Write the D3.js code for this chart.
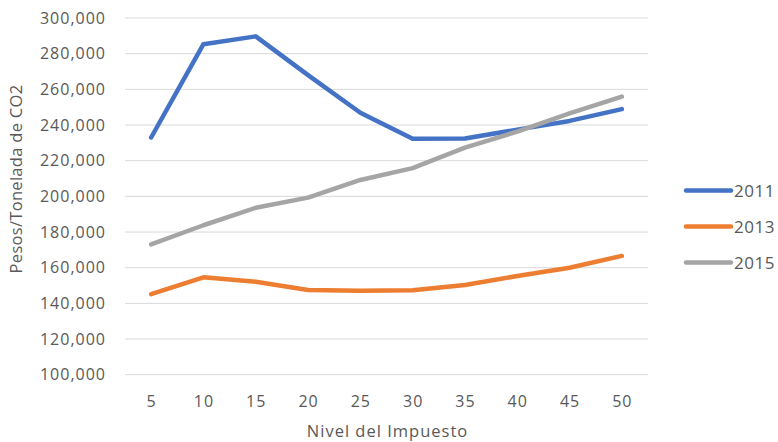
<!DOCTYPE html>
<html>
<head>
<meta charset="utf-8">
<script src="https://cdn.jsdelivr.net/npm/d3@7/dist/d3.min.js"></script>
<style>
  html, body { margin: 0; padding: 0; background: #fff; }
  svg { display: block; font-family: "Open Sans", sans-serif; }
</style>
</head>
<body>
<svg id="chart" width="778" height="442"></svg>
<script>
// Tax level categories on the x axis
const niveles = [5, 10, 15, 20, 25, 30, 35, 40, 45, 50];

// Cost per tonne of CO2 for each year
const serie2011 = [233000, 285300, 289700, 268000, 246900, 232300, 232400, 237400, 242300, 248900];
const serie2013 = [145200, 154600, 152100, 147500, 147100, 147400, 150300, 155300, 160000, 166600];
const serie2015 = [173100, 183800, 193600, 199300, 209200, 215800, 227300, 236300, 246500, 255900];

const seriesNames = ["2011", "2013", "2015"];
const seriesColors = ["#4472C4", "#ED7D31", "#A5A5A5"];
const yTicks = [100000, 120000, 140000, 160000, 180000, 200000, 220000, 240000, 260000, 280000, 300000];

const series = [serie2011, serie2013, serie2015];

const svg = d3.select("#chart");
const plotLeft = 125, plotRight = 648, plotTop = 18, plotBottom = 374.7;

const x = d3.scalePoint().domain(niveles).range([plotLeft, plotRight]).padding(0.5);
const y = d3.scaleLinear().domain([100000, 300000]).range([plotBottom, plotTop]);

const fmt = d3.format(",");
const textColor = "#595959";

// Horizontal gridlines
svg.append("g")
  .selectAll("line")
  .data(yTicks)
  .join("line")
  .attr("x1", plotLeft).attr("x2", plotRight)
  .attr("y1", d => y(d)).attr("y2", d => y(d))
  .attr("stroke", "#D9D9D9").attr("stroke-width", 1);

// Y axis labels
const yAxis = d3.axisLeft(y).tickValues(yTicks).tickFormat(fmt).tickSize(0).tickPadding(0);
const yg = svg.append("g").attr("transform", `translate(${plotLeft - 19},0)`).call(yAxis);
yg.select(".domain").remove();
yg.selectAll("text")
  .attr("fill", textColor)
  .attr("font-size", 16)
  .attr("letter-spacing", 1)
  .attr("font-family", "'Open Sans', sans-serif");

// X axis labels
const xAxis = d3.axisBottom(x).tickSize(0).tickPadding(0);
const xg = svg.append("g").attr("transform", `translate(0,${plotBottom + 21})`).call(xAxis);
xg.select(".domain").remove();
xg.selectAll("text")
  .attr("fill", textColor)
  .attr("font-size", 16)
  .attr("letter-spacing", 1)
  .attr("font-family", "'Open Sans', sans-serif");

// Axis titles
svg.append("text")
  .attr("x", (plotLeft + plotRight) / 2 + 1)
  .attr("y", 437)
  .attr("text-anchor", "middle")
  .attr("fill", textColor)
  .attr("font-size", 16.5)
  .attr("letter-spacing", 1)
  .text("Nivel del Impuesto");

svg.append("text")
  .attr("transform", "translate(22,179) rotate(-90)")
  .attr("text-anchor", "middle")
  .attr("fill", textColor)
  .attr("font-size", 16.5)
  .attr("letter-spacing", 0.3)
  .text("Pesos/Tonelada de CO2");

// Series lines
const line = d3.line().x((d, i) => x(niveles[i])).y(d => y(d));
svg.append("g")
  .selectAll("path")
  .data(series)
  .join("path")
  .attr("d", d => line(d))
  .attr("fill", "none")
  .attr("stroke", (d, i) => seriesColors[i])
  .attr("stroke-width", 4.5)
  .attr("stroke-linejoin", "round")
  .attr("stroke-linecap", "round");

// Legend
const legend = svg.append("g");
const legendY = [190.5, 226.5, 262.5];
seriesNames.forEach((name, i) => {
  legend.append("line")
    .attr("x1", 686).attr("x2", 731)
    .attr("y1", legendY[i]).attr("y2", legendY[i])
    .attr("stroke", seriesColors[i])
    .attr("stroke-width", 4.5)
    .attr("stroke-linecap", "round");
  legend.append("text")
    .attr("x", 734)
    .attr("y", legendY[i] + 6.5)
    .attr("fill", textColor)
    .attr("font-size", 17)
    .attr("letter-spacing", 0.5)
    .text(name);
});
</script>
</body>
</html>
